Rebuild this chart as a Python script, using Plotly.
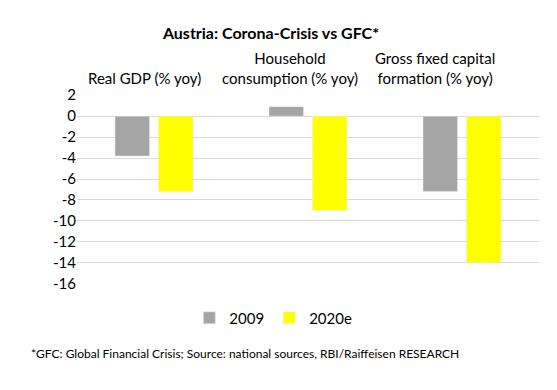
import plotly.graph_objects as go

categories = ["Real GDP", "Household consumption", "Gross fixed capital formation"]
cat_labels = ["Real GDP (% yoy)", "Household<br>consumption (% yoy)", "Gross fixed capital<br>formation (% yoy)"]
label_shift = [-10, -18, -27]
values_2009 = [-3.8, 0.9, -7.2]
values_2020e = [-7.2, -9.0, -14.0]
y_ticks = [2, 0, -2, -4, -6, -8, -10, -12, -14, -16]

FONT = "Lato, 'Open Sans', sans-serif"
FOOT = "*GFC: Global Financial Crisis; Source: national sources, RBI/Raiffeisen RESEARCH"

# page body adds an 8px margin; figure is sized to fit inside the 557x390 window
W, H = 549, 382

fig = go.Figure()
fig.add_trace(go.Bar(x=categories, y=values_2009, name="2009", marker_color="#a5a5a5"))
fig.add_trace(go.Bar(x=categories, y=values_2020e, name="2020e", marker_color="#ffff00"))

for c, lab, s in zip(categories, cat_labels, label_shift):
    fig.add_annotation(x=c, xref="x", y=1.0, yref="paper", yanchor="bottom", yshift=6,
                       xshift=s, text=lab, showarrow=False, align="center",
                       font=dict(family=FONT, size=15, color="#000000"))

fig.add_annotation(x=-0.104, xref="paper", xanchor="left", y=-0.37, yref="paper",
                   yanchor="middle", text=FOOT, showarrow=False,
                   font=dict(family=FONT, size=12, color="#000000"))

fig.update_layout(
    width=W, height=H,
    margin=dict(l=69, r=18, t=87, b=106),
    paper_bgcolor="white", plot_bgcolor="white",
    title=dict(text="<b>Austria: Corona-Crisis vs GFC*</b>", x=263 / W, xanchor="center",
               y=1 - 25 / H, yanchor="middle",
               font=dict(family=FONT, size=16, color="#000000")),
    barmode="group", bargap=0.435, bargroupgap=0.207,
    font=dict(family=FONT, size=15, color="#000000"),
    legend=dict(orientation="h", x=0.425, xanchor="center", y=-0.18, yanchor="middle",
                font=dict(family=FONT, size=15), itemwidth=30, traceorder="normal"),
    xaxis=dict(showticklabels=False, showgrid=False, zeroline=False, showline=False),
    yaxis=dict(range=[-16.02, 2.02], tickvals=y_ticks, ticktext=[str(v) for v in y_ticks],
               showgrid=True, gridcolor="#d9d9d9", gridwidth=1,
               zeroline=True, zerolinecolor="#d9d9d9", zerolinewidth=1,
               showline=False, ticks="", tickfont=dict(family=FONT, size=15)),
)

fig.write_html("out.html")
